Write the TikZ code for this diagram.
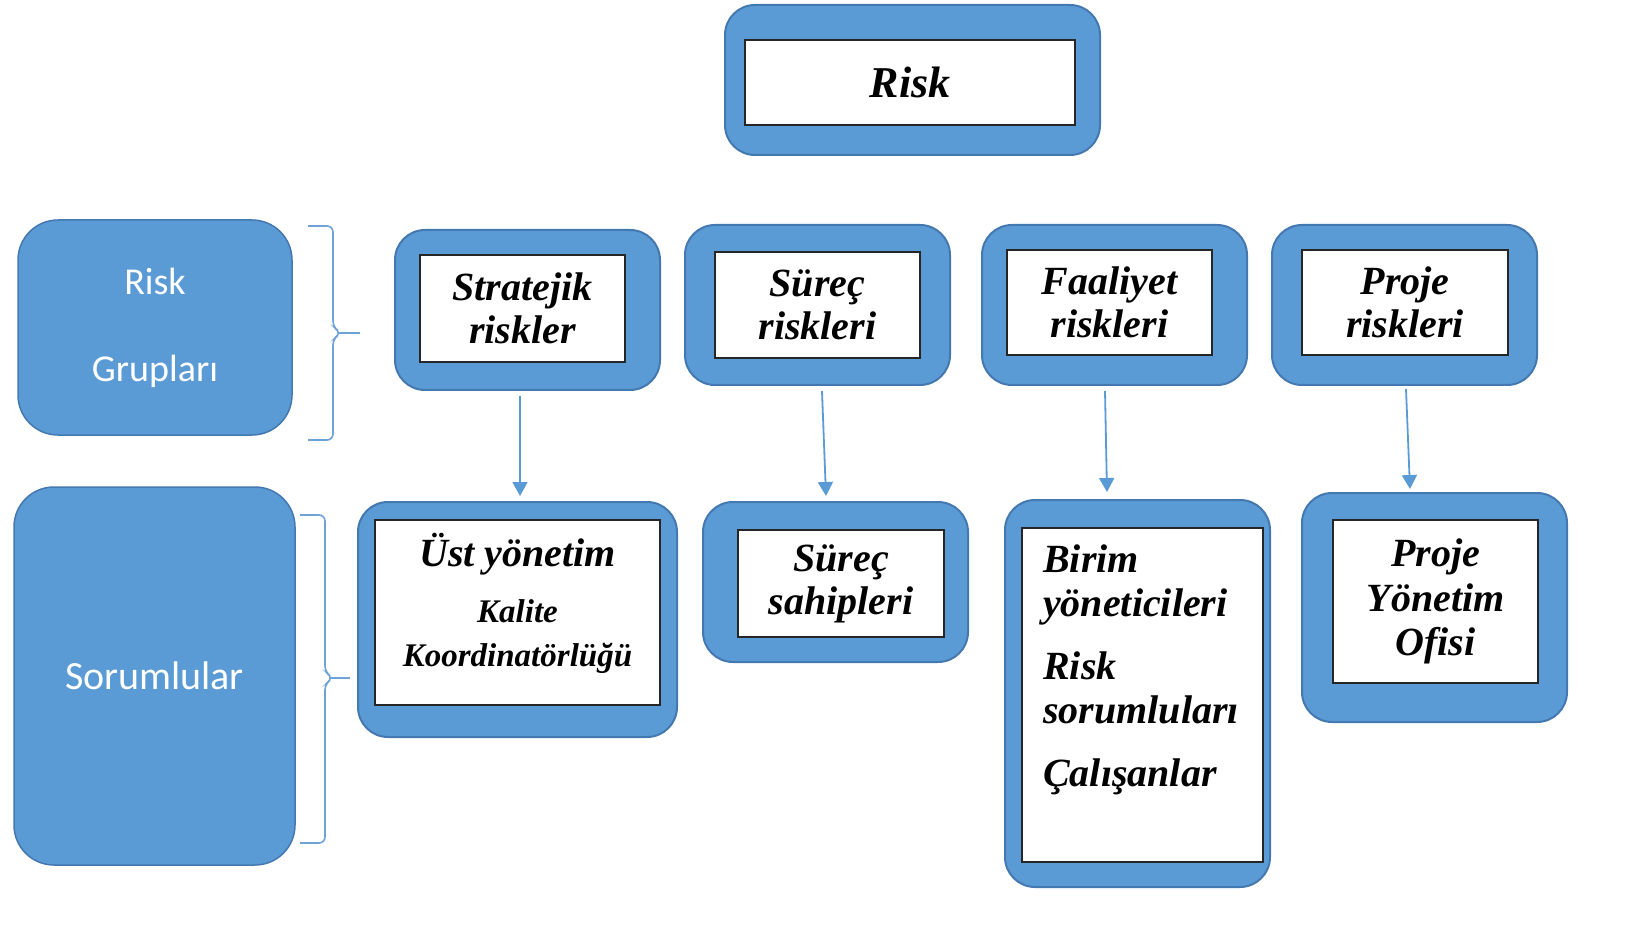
\documentclass[tikz,border=0pt]{standalone}
\usepackage{fontspec}
\setmainfont{Liberation Serif}
\newfontfamily\sansw{Carlito}
\usetikzlibrary{arrows.meta,calc}
\definecolor{bfill}{HTML}{5B9BD5}
\definecolor{bedge}{HTML}{4478B0}
\definecolor{brc}{HTML}{6FA3D8}
\begin{document}
\begin{tikzpicture}[x=1pt,y=-1pt,
  outerbox/.style={draw=bedge,fill=bfill,line width=2pt,rounded corners=30pt,inner sep=0pt},
  innerbox/.style={draw=black!85,fill=white,line width=1.6pt,inner sep=0pt,align=center,
    font=\fontsize{40}{43}\selectfont\bfseries\itshape},
  sidebox/.style={fill=bfill,draw=bedge,line width=1.5pt,rounded corners=40pt,inner sep=0pt,
    text=white,align=center},
  txt/.style={inner sep=0pt,font=\fontsize{40}{44}\selectfont\bfseries\itshape},
  bracestyle/.style={draw=brc,line width=1.6pt,rounded corners=6pt},
  arr/.style={draw=bfill,line width=1.8pt,-{Triangle[width=15pt,length=14pt]}}]
\useasboundingbox (0,0) rectangle (1642,933);

% top
\node[outerbox,minimum width=375pt,minimum height=150pt] (riskO) at (912.5,80) {};
\node[innerbox,minimum width=330pt,minimum height=85pt,font=\fontsize{44}{46}\selectfont\bfseries\itshape] (riskI) at (910,82.5) {Risk};

% side boxes
\node[sidebox,minimum width=274pt,minimum height=215pt,font=\sansw\fontsize{38}{87}\selectfont] (grp) at (155,327.5) {Risk\\Grupları};
\node[sidebox,minimum width=281pt,minimum height=378pt,font=\sansw\fontsize{40}{44}\selectfont] (sor) at (154.5,676) {Sorumlular};

% braces
\coordinate (b1t) at (308,226);
\coordinate (b1b) at (308,440);
\coordinate (b1m) at (360,333);
\draw[bracestyle] (b1t) -- (333,226) -- (333,327) -- (341,333) -- (333,339) -- (333,440) -- (b1b);
\draw[draw=brc,line width=1.6pt] (339,333) -- (b1m);
\coordinate (b2t) at (300,515);
\coordinate (b2b) at (300,843);
\coordinate (b2m) at (350,678);
\draw[bracestyle] (b2t) -- (325,515) -- (325,672) -- (333,678) -- (325,684) -- (325,843) -- (b2b);
\draw[draw=brc,line width=1.6pt] (331,678) -- (b2m);

% risk groups
\node[outerbox,minimum width=265pt,minimum height=160pt] (strO) at (527.5,310) {};
\node[innerbox,minimum width=205pt,minimum height=107pt] (strI) at (522.5,308.5) {Stratejik\\riskler};
\node[outerbox,minimum width=265pt,minimum height=160pt] (surO) at (817.5,305) {};
\node[innerbox,minimum width=205pt,minimum height=106pt] (surI) at (817.5,305) {Süreç\\riskleri};
\node[outerbox,minimum width=265pt,minimum height=160pt] (faaO) at (1114.5,305) {};
\node[innerbox,minimum width=205pt,minimum height=105pt] (faaI) at (1109.5,302.5) {Faaliyet\\riskleri};
\node[outerbox,minimum width=265pt,minimum height=160pt] (proO) at (1404.5,305) {};
\node[innerbox,minimum width=206pt,minimum height=105pt] (proI) at (1405,302.5) {Proje\\riskleri};

% responsibles
\node[outerbox,minimum width=319pt,minimum height=235pt] (ustO) at (517.5,619.5) {};
\node[innerbox,minimum width=285pt,minimum height=185pt] (ustI) at (517.5,612.5) {};
\node[txt,align=center] (ustT) at (517.5,603) {Üst yönetim\\[12pt]\fontsize{33}{38}\selectfont Kalite\\\fontsize{33}{38}\selectfont Koordinatörlüğü};

\node[outerbox,minimum width=265pt,minimum height=160pt] (sahO) at (835.5,582) {};
\node[innerbox,minimum width=206pt,minimum height=107pt] (sahI) at (841,583.5) {Süreç\\sahipleri};

\node[outerbox,minimum width=265pt,minimum height=387pt] (birO) at (1137.5,693.5) {};
\node[innerbox,minimum width=241pt,minimum height=334pt] (birI) at (1142.5,695) {};
\node[txt,align=left,anchor=west] (birT) at (1043,670) {Birim\\yöneticileri\\[19pt]Risk\\sorumluları\\[19pt]Çalışanlar};

\node[outerbox,minimum width=265pt,minimum height=229pt] (pyoO) at (1434.5,607.5) {};
\node[innerbox,minimum width=205pt,minimum height=163pt,font=\fontsize{40}{44.5}\selectfont\bfseries\itshape] (pyoI) at (1435.5,601.5) {Proje\\Yönetim\\Ofisi};

% arrows
\draw[arr] ([xshift=-7.5pt,yshift=-5pt]strO.south) -- ([xshift=2.5pt,yshift=5pt]ustO.north);
\draw[arr] ([xshift=4.5pt,yshift=-5pt]surO.south) -- ([xshift=-9.5pt,yshift=5pt]sahO.north);
\draw[arr] ([xshift=-9.5pt,yshift=-5pt]faaO.south) -- ([xshift=-30.5pt,yshift=7pt]birO.north);
\draw[arr] ([xshift=1.5pt,yshift=-3pt]proO.south) -- ([xshift=-24.5pt,yshift=3pt]pyoO.north);
\end{tikzpicture}
\end{document}
